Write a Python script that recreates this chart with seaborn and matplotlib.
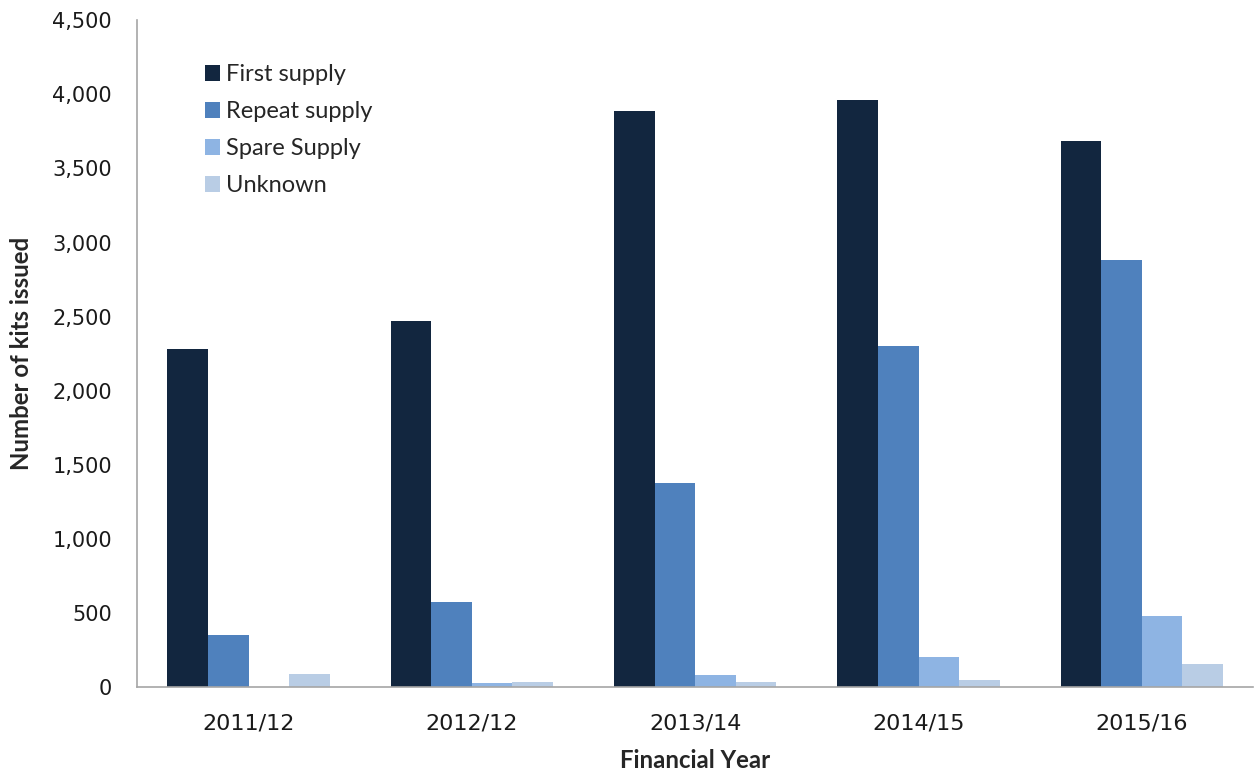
import matplotlib
matplotlib.use("Agg")
import matplotlib.pyplot as plt
import seaborn as sns
import pandas as pd
from matplotlib.ticker import FuncFormatter, FixedLocator

years = ["2011/12", "2012/12", "2013/14", "2014/15", "2015/16"]
first_supply = [2280, 2470, 3890, 3960, 3685]
repeat_supply = [350, 575, 1375, 2300, 2880]
spare_supply = [0, 30, 85, 205, 482]
unknown = [92, 38, 38, 50, 160]
series_names = ["First supply", "Repeat supply", "Spare Supply", "Unknown"]
colors = ["#12263F", "#4F81BD", "#8EB4E3", "#B9CDE5"]

rows = []
for name, vals in zip(series_names, [first_supply, repeat_supply, spare_supply, unknown]):
    for y, v in zip(years, vals):
        rows.append({"Financial Year": y, "Type": name, "Kits": v})
df = pd.DataFrame(rows)

sns.set_style("white")
plt.rcParams["font.family"] = ["DejaVu Sans"]

fig = plt.figure(figsize=(12.56, 7.74), dpi=100)
ax = fig.add_axes([0.109, 0.112, 0.889, 0.862])

sns.barplot(data=df, x="Financial Year", y="Kits", hue="Type", order=years,
            hue_order=series_names, palette=colors, width=0.727, gap=0,
            saturation=1, ax=ax, edgecolor="none", linewidth=0)

ax.set_xlim(-0.5, 4.5)
ax.set_ylim(0, 4500)
ax.set_yticks(range(0, 4501, 500))
ax.yaxis.set_major_formatter(FuncFormatter(lambda v, p: f"{int(v):,}"))

ax.set_xticks(range(len(years)))
ax.set_xticklabels(years)
ax.xaxis.set_minor_locator(FixedLocator([i + 0.5 for i in range(len(years))]))
ax.tick_params(axis="x", which="major", length=0, labelsize=16, pad=19, colors="#000000")
ax.tick_params(axis="x", which="minor", length=6, width=1, color="#A6A6A6", direction="out")
ax.tick_params(axis="y", which="major", length=5, width=1, color="#A6A6A6", direction="out",
               labelsize=15, pad=13)
for lbl in ax.get_xticklabels() + ax.get_yticklabels():
    lbl.set_color("#1a1a1a")

for s in ["top", "right"]:
    ax.spines[s].set_visible(False)
for s in ["left", "bottom"]:
    ax.spines[s].set_color("#A6A6A6")
    ax.spines[s].set_linewidth(1.2)

ax.set_xlabel("Financial Year", fontsize=17.3, fontweight="bold", family="Lato", labelpad=11)
ax.set_ylabel("Number of kits issued", fontsize=17.3, fontweight="bold", family="Lato", labelpad=14)

leg = ax.legend(loc="upper left", bbox_to_anchor=(0.042, 0.966), frameon=False,
                prop={"family": "Lato", "size": 17}, handlelength=0.65, handleheight=0.65,
                handletextpad=0.25, labelspacing=0.68, title=None)

fig.savefig("out.png", dpi=100)
